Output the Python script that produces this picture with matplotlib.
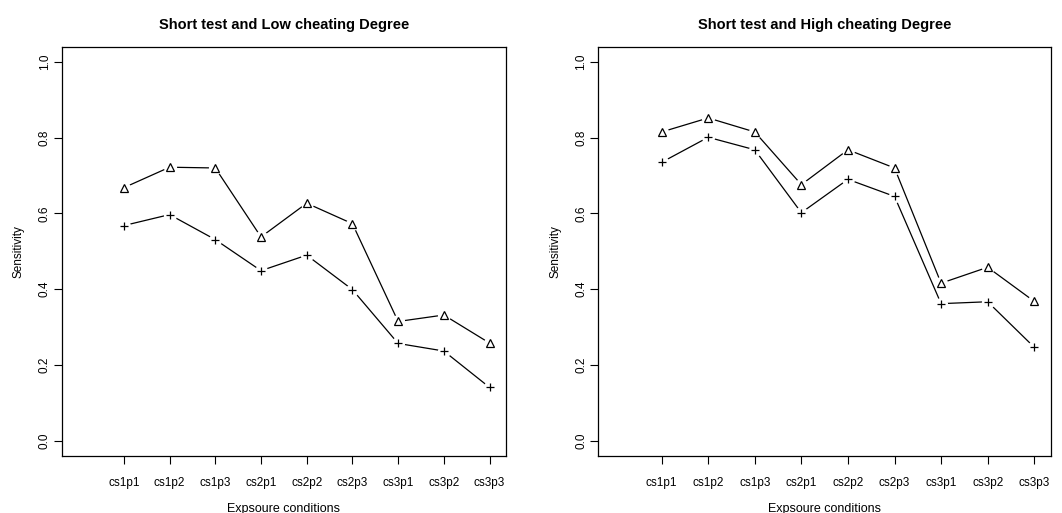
import numpy as np
import matplotlib.pyplot as plt

plt.rcParams['font.family'] = ['Liberation Sans', 'DejaVu Sans']

conditions = ["cs1p1", "cs1p2", "cs1p3", "cs2p1", "cs2p2", "cs2p3", "cs3p1", "cs3p2", "cs3p3"]

# low cheating degree
low_tri = [0.668, 0.722, 0.720, 0.538, 0.627, 0.573, 0.315, 0.332, 0.258]
low_plus = [0.568, 0.597, 0.531, 0.449, 0.490, 0.399, 0.257, 0.237, 0.141]

# high cheating degree
high_tri = [0.815, 0.852, 0.815, 0.676, 0.768, 0.720, 0.416, 0.458, 0.368]
high_plus = [0.735, 0.801, 0.768, 0.602, 0.690, 0.645, 0.362, 0.367, 0.247]

titles = ["Short test and Low cheating Degree", "Short test and High cheating Degree"]

fig = plt.figure(figsize=(10.62, 5.13), dpi=100)
ax1 = fig.add_axes([61.7 / 1062, 57 / 513, 444.3 / 1062, 409.3 / 513])
ax2 = fig.add_axes([598.3 / 1062, 57 / 513, 452.7 / 1062, 409.3 / 513])

x = np.arange(1, len(conditions) + 1)


def draw_b(ax, y, marker, ms):
    # R-style type="b": lines broken around the points
    ax.plot(x, y, color="black", lw=0.9, zorder=1)
    ax.plot(x, y, ls="none", marker="o", ms=9.5, mfc="white", mec="none", zorder=2)
    ax.plot(x, y, ls="none", marker=marker, ms=ms, mfc="none", mec="black", mew=0.9, zorder=3)


for ax, tri, plus, title in [(ax1, low_tri, low_plus, titles[0]), (ax2, high_tri, high_plus, titles[1])]:
    draw_b(ax, tri, "^", 5.2)
    draw_b(ax, plus, "+", 5.5)
    ax.set_xlim(-0.36, 9.36)
    ax.set_ylim(-0.04, 1.04)
    ax.set_xticks(x)
    ax.set_xticklabels(conditions, fontsize=8.5)
    ax.set_yticks([0.0, 0.2, 0.4, 0.6, 0.8, 1.0])
    ax.set_yticklabels(["0.0", "0.2", "0.4", "0.6", "0.8", "1.0"], fontsize=8.5,
                       rotation=90, va="center")
    ax.tick_params(direction="out", length=6, width=0.8)
    ax.tick_params(axis="x", pad=9)
    ax.tick_params(axis="y", pad=2)
    for s in ax.spines.values():
        s.set_linewidth(0.9)
    ax.set_title(title, fontsize=10.5, fontweight="bold", pad=13)
    ax.set_xlabel("Expsoure conditions", fontsize=9, labelpad=10)
    ax.set_ylabel("Sensitivity", fontsize=8.5, labelpad=10)

fig.savefig("out.png", dpi=100)
